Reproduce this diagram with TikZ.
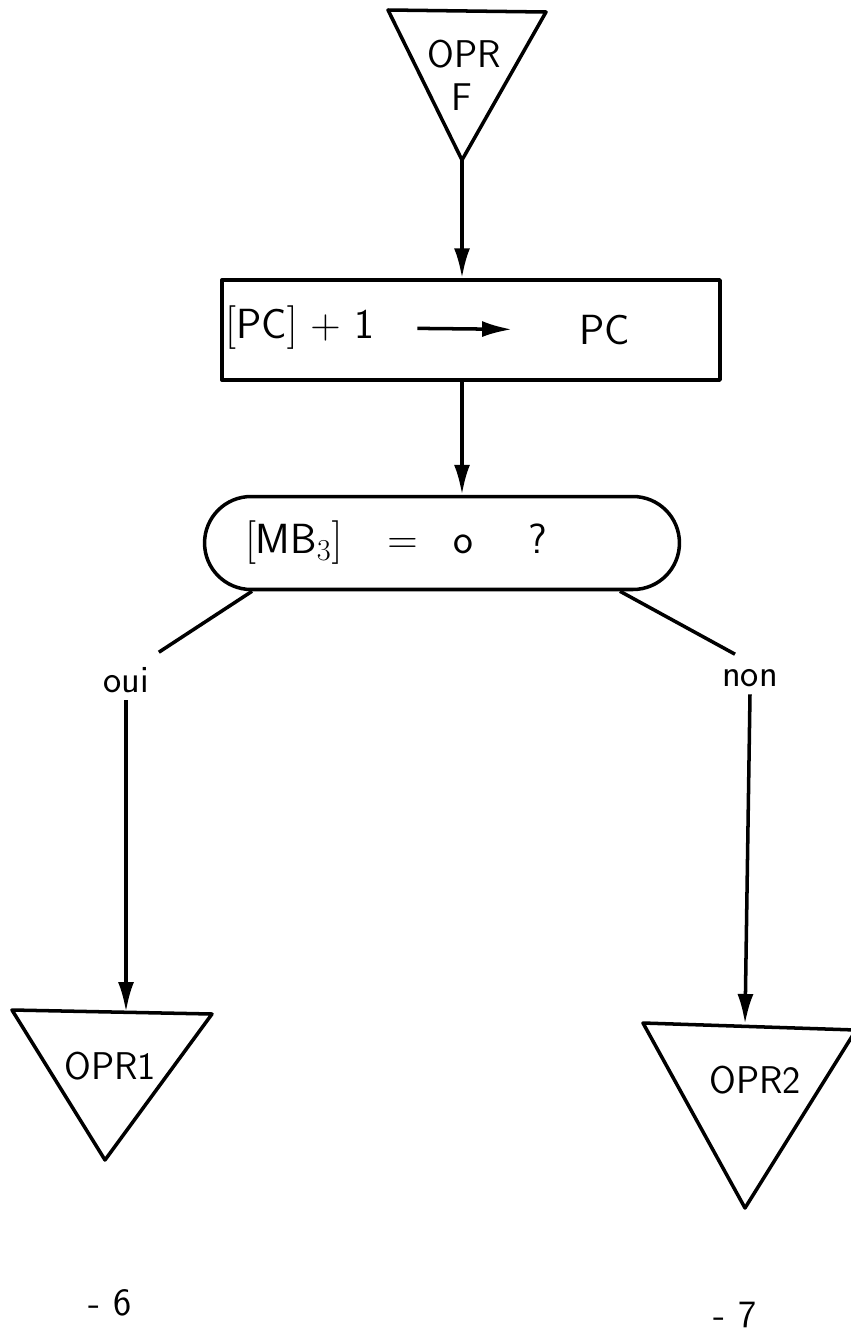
\documentclass[tikz,border=0pt]{standalone}
\usepackage{tikz}
\usetikzlibrary{arrows.meta,shapes.misc}
\renewcommand{\familydefault}{\sfdefault}

\begin{document}
\begin{tikzpicture}[x=0.02cm,y=-0.02cm,line width=2pt,line join=round,
  flow/.style={-{Latex[length=6mm,width=3.2mm]}},
  lab/.style={font=\fontsize{24}{28}\selectfont},
  tri/.style={font=\fontsize{22}{26}\selectfont},
  small/.style={font=\fontsize{22}{24}\selectfont}]
\useasboundingbox (0,0) rectangle (851,1336);

% entry
\draw (388,10)--(546,12)--(462,160)--cycle;
\coordinate (fapex) at (462,160);
\node [tri] (oprf) at (464,54) {OPR};
\node [tri] (fname) at (462,97) {F};

% increment
\node [draw,minimum width=9.96cm,minimum height=2cm,inner sep=0] (incr) at (471,330) {};
\node [lab] (pcold) at (300,328) {$\Big[$PC$\Big]$ + 1};
\node [lab] (pcnew) at (605,330) {PC};
\draw [flow,shorten <=0.7cm,shorten >=1.2cm] (pcold.east)--(pcnew.west);
\draw [flow] (fapex)--(fapex |- incr.north);

% test
\node [draw,rounded rectangle,minimum width=9.5cm,minimum height=1.86cm,inner sep=0] (test) at (442,543) {};
\node [lab] (cond) at (396,543) {$\Big[$MB$_3\Big]$\hspace{0.9cm}=\hspace{0.7cm}o\hspace{1.1cm}?};
\draw [flow] (fapex |- incr.south)--(fapex |- test.north);

% branches
\node [small] (oui) at (126,680) {oui};
\node [small] (non) at (750,678) {non};
\draw ([xshift=-3.8cm]test.south)--([shift={(0.05cm,0.15cm)}]oui.north east);
\draw ([xshift=3.56cm]test.south)--([shift={(-0.3cm,0.15cm)}]non.north);

% exits
\draw (12,1010)--(212,1014)--(105,1160)--cycle;
\coordinate (toneop) at (126,1012);
\node [tri] (oprone) at (110,1066) {OPR1};
\draw [flow] (oui.south)--(toneop);

\draw (643,1023)--(856,1030)--(745,1208)--cycle;
\coordinate (ttwoop) at (745,1024);
\node [tri] (oprtwo) at (755,1080) {OPR2};
\draw [flow] (non.south)--(ttwoop);

\node [small] (pgsix) at (110,1303) {- 6};
\node [small] (pgseven) at (735,1315) {- 7};
\end{tikzpicture}
\end{document}
